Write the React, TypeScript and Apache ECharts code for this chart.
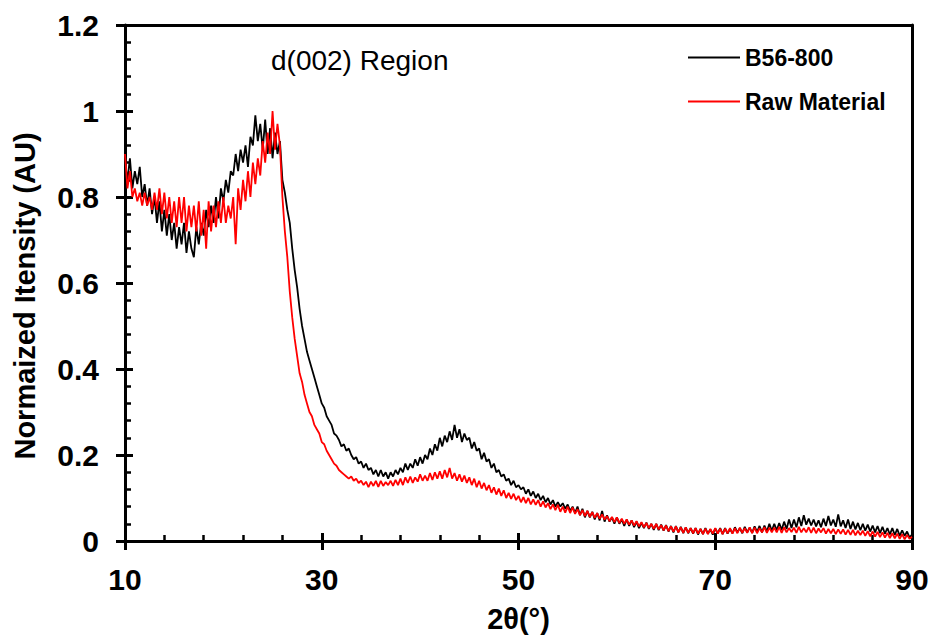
import React, { useEffect, useRef } from "react";
import * as echarts from "echarts";

const X_START = 10;
const X_STEP = 0.25;

const seriesNames = ["B56-800", "Raw Material"];
const titleText = "d(002) Region";
const xName = "2θ(°)";
const yName = "Normaized Itensity (AU)";

const b56 = [
  0.88, 0.84, 0.89, 0.82,
  0.86, 0.83, 0.87, 0.8,
  0.83, 0.78, 0.82, 0.76,
  0.8, 0.74, 0.79, 0.72,
  0.77, 0.71, 0.76, 0.7,
  0.74, 0.68, 0.73, 0.69,
  0.74, 0.67, 0.72, 0.68,
  0.66, 0.73, 0.69, 0.74,
  0.71, 0.77, 0.73, 0.78,
  0.74, 0.8, 0.75, 0.82,
  0.79, 0.84, 0.81, 0.86,
  0.85, 0.9, 0.86, 0.91,
  0.88, 0.92, 0.87, 0.94,
  0.92, 0.99, 0.93, 0.97,
  0.91, 0.98, 0.9, 0.96,
  0.89, 0.95, 0.9, 0.93,
  0.84, 0.81, 0.77, 0.74,
  0.68, 0.63, 0.59, 0.54,
  0.5, 0.47, 0.44, 0.42,
  0.4, 0.38, 0.36, 0.34,
  0.32, 0.31, 0.29, 0.28,
  0.27, 0.25, 0.245, 0.235,
  0.22, 0.225, 0.21, 0.215,
  0.2, 0.19, 0.195, 0.18,
  0.185, 0.17, 0.18, 0.165,
  0.17, 0.155, 0.165, 0.15,
  0.165, 0.15, 0.16, 0.145,
  0.16, 0.15, 0.165, 0.155,
  0.17, 0.16, 0.18, 0.165,
  0.18, 0.17, 0.19, 0.175,
  0.195, 0.18, 0.2, 0.19,
  0.215, 0.2, 0.225, 0.21,
  0.24, 0.22, 0.245, 0.23,
  0.255, 0.235, 0.27, 0.24,
  0.26, 0.23, 0.25, 0.235,
  0.24, 0.215, 0.23, 0.21,
  0.215, 0.19, 0.205, 0.185,
  0.19, 0.17, 0.18, 0.16,
  0.165, 0.15, 0.155, 0.14,
  0.145, 0.13, 0.14, 0.125,
  0.13, 0.12, 0.125, 0.11,
  0.12, 0.105, 0.115, 0.1,
  0.11, 0.095, 0.105, 0.09,
  0.1, 0.085, 0.095, 0.08,
  0.09, 0.08, 0.088, 0.075,
  0.085, 0.07, 0.08, 0.065,
  0.08, 0.06, 0.075, 0.055,
  0.07, 0.055, 0.068, 0.05,
  0.065, 0.048, 0.07, 0.045,
  0.06, 0.045, 0.055, 0.04,
  0.055, 0.04, 0.05, 0.035,
  0.05, 0.035, 0.048, 0.032,
  0.045, 0.03, 0.042, 0.03,
  0.043, 0.028, 0.04, 0.026,
  0.04, 0.025, 0.038, 0.024,
  0.037, 0.022, 0.035, 0.02,
  0.035, 0.02, 0.033, 0.018,
  0.032, 0.018, 0.03, 0.017,
  0.03, 0.015, 0.028, 0.016,
  0.03, 0.017, 0.027, 0.015,
  0.029, 0.018, 0.03, 0.016,
  0.03, 0.017, 0.028, 0.018,
  0.032, 0.02, 0.03, 0.018,
  0.033, 0.02, 0.031, 0.019,
  0.034, 0.021, 0.035, 0.02,
  0.036, 0.022, 0.04, 0.024,
  0.04, 0.025, 0.042, 0.026,
  0.045, 0.028, 0.05, 0.03,
  0.05, 0.032, 0.055, 0.035,
  0.06, 0.038, 0.052, 0.036,
  0.05, 0.034, 0.048, 0.032,
  0.052, 0.035, 0.058, 0.036,
  0.05, 0.033, 0.062, 0.034,
  0.048, 0.03, 0.05, 0.028,
  0.045, 0.027, 0.042, 0.025,
  0.04, 0.024, 0.038, 0.022,
  0.036, 0.02, 0.035, 0.018,
  0.033, 0.017, 0.03, 0.015,
  0.03, 0.014, 0.028, 0.012,
  0.025, 0.012, 0.022, 0.008,
  0.015,
];

const raw = [
  0.9, 0.82, 0.86, 0.8,
  0.82, 0.79, 0.81, 0.78,
  0.81, 0.78, 0.8, 0.77,
  0.81, 0.77, 0.82, 0.76,
  0.81, 0.75, 0.8, 0.74,
  0.79, 0.73, 0.8, 0.74,
  0.8, 0.72, 0.78, 0.73,
  0.78, 0.72, 0.79, 0.71,
  0.77, 0.68, 0.79, 0.72,
  0.78, 0.73, 0.79, 0.74,
  0.8, 0.74, 0.78, 0.75,
  0.8, 0.69, 0.82, 0.77,
  0.84, 0.79, 0.86, 0.8,
  0.88, 0.83, 0.89, 0.85,
  0.93, 0.88, 0.95, 0.9,
  1.0, 0.91, 0.97, 0.92,
  0.8, 0.72, 0.66, 0.58,
  0.52, 0.47, 0.43, 0.39,
  0.37, 0.34, 0.32, 0.3,
  0.29, 0.27, 0.26, 0.25,
  0.23, 0.225, 0.21, 0.2,
  0.19, 0.18, 0.175, 0.165,
  0.16, 0.155, 0.15, 0.145,
  0.15, 0.14, 0.145, 0.135,
  0.14, 0.13, 0.138, 0.125,
  0.138, 0.128, 0.14, 0.126,
  0.14, 0.128, 0.137, 0.13,
  0.14, 0.128, 0.142, 0.13,
  0.145, 0.13, 0.148, 0.135,
  0.15, 0.135, 0.148, 0.138,
  0.155, 0.14, 0.152, 0.14,
  0.158, 0.142, 0.16, 0.145,
  0.162, 0.145, 0.165, 0.148,
  0.17, 0.145, 0.158, 0.14,
  0.155, 0.138, 0.152, 0.135,
  0.148, 0.13, 0.145, 0.125,
  0.14, 0.122, 0.135, 0.118,
  0.13, 0.112, 0.125, 0.108,
  0.122, 0.105, 0.118, 0.1,
  0.112, 0.098, 0.11, 0.095,
  0.105, 0.09, 0.102, 0.088,
  0.1, 0.085, 0.097, 0.084,
  0.095, 0.08, 0.092, 0.078,
  0.088, 0.074, 0.085, 0.072,
  0.084, 0.068, 0.08, 0.066,
  0.08, 0.065, 0.078, 0.063,
  0.074, 0.06, 0.072, 0.058,
  0.07, 0.056, 0.067, 0.054,
  0.065, 0.052, 0.062, 0.05,
  0.058, 0.046, 0.056, 0.044,
  0.055, 0.042, 0.052, 0.04,
  0.05, 0.038, 0.048, 0.036,
  0.046, 0.034, 0.044, 0.032,
  0.042, 0.03, 0.04, 0.028,
  0.04, 0.027, 0.037, 0.025,
  0.036, 0.023, 0.034, 0.022,
  0.034, 0.02, 0.032, 0.019,
  0.032, 0.019, 0.03, 0.018,
  0.03, 0.017, 0.028, 0.016,
  0.029, 0.016, 0.028, 0.017,
  0.03, 0.017, 0.029, 0.016,
  0.029, 0.018, 0.03, 0.017,
  0.03, 0.018, 0.031, 0.019,
  0.03, 0.019, 0.032, 0.018,
  0.031, 0.018, 0.03, 0.02,
  0.032, 0.019, 0.031, 0.02,
  0.031, 0.02, 0.033, 0.019,
  0.032, 0.02, 0.03, 0.021,
  0.031, 0.019, 0.033, 0.02,
  0.03, 0.02, 0.032, 0.019,
  0.031, 0.018, 0.029, 0.02,
  0.03, 0.017, 0.028, 0.018,
  0.028, 0.016, 0.027, 0.017,
  0.027, 0.015, 0.026, 0.014,
  0.026, 0.013, 0.024, 0.014,
  0.024, 0.012, 0.023, 0.011,
  0.022, 0.01, 0.021, 0.009,
  0.02, 0.008, 0.019, 0.007,
  0.018, 0.006, 0.017, 0.005,
  0.016, 0.004, 0.014, 0.005,
  0.01,
];

const FONT = "'Liberation Sans', Arial, sans-serif";

const toPoints = (arr: number[]) => arr.map((v, i) => [X_START + i * X_STEP, v]);

export default function App() {
  const ref = useRef<HTMLDivElement>(null);

  useEffect(() => {
    document.body.style.margin = "0";
    if (!ref.current) return;
    const chart = echarts.init(ref.current, null, { renderer: "svg" });

    const labelStyle = { fontFamily: FONT, fontWeight: "bold" as const, fontSize: 30, color: "#000" };
    const nameStyle = { fontFamily: FONT, fontWeight: "bold" as const, fontSize: 29, color: "#000" };
    const frameAxis = {
      show: true,
      axisLine: { show: true, onZero: false, lineStyle: { color: "#000", width: 3 } },
      axisTick: { show: false },
      axisLabel: { show: false },
      splitLine: { show: false },
    };

    chart.setOption({
      animation: false,
      backgroundColor: "#fff",
      grid: { left: 125, right: 23, top: 25, bottom: 100 },
      title: {
        text: titleText,
        left: 266,
        top: 41,
        textStyle: { fontFamily: FONT, fontWeight: "normal", fontSize: 28, color: "#000" },
      },
      legend: {
        data: seriesNames,
        orient: "vertical",
        left: 683,
        top: 41,
        icon: "rect",
        itemWidth: 52,
        itemHeight: 2,
        itemGap: 21,
        textStyle: { fontFamily: FONT, fontWeight: "bold", fontSize: 23, color: "#000" },
      },
      xAxis: [
        {
          type: "value",
          min: 10,
          max: 90,
          interval: 20,
          name: xName,
          nameLocation: "middle",
          nameGap: 63,
          nameTextStyle: nameStyle,
          axisLine: { show: true, onZero: false, lineStyle: { color: "#000", width: 3 } },
          axisTick: { show: true, inside: true, length: 8, lineStyle: { color: "#000", width: 3 } },
          minorTick: { show: true, splitNumber: 5, length: 6, lineStyle: { color: "#000", width: 2.5 } },
          axisLabel: { ...labelStyle, margin: 23 },
          splitLine: { show: false },
          minorSplitLine: { show: false },
        },
        {
          type: "value",
          min: 10,
          max: 90,
          interval: 20,
          position: "bottom",
          axisLine: { show: false, onZero: false },
          axisTick: { show: true, inside: false, length: 9, lineStyle: { color: "#000", width: 3 } },
          axisLabel: { show: false },
          splitLine: { show: false },
        },
        { ...frameAxis, type: "value", min: 10, max: 90, position: "top" },
      ],
      yAxis: [
        {
          type: "value",
          min: 0,
          max: 1.2,
          interval: 0.2,
          name: yName,
          nameLocation: "middle",
          nameGap: 86,
          nameTextStyle: { ...nameStyle, padding: [0, 26, 0, 0] },
          axisLine: { show: true, onZero: false, lineStyle: { color: "#000", width: 3 } },
          axisTick: { show: true, inside: true, length: 8, lineStyle: { color: "#000", width: 3 } },
          minorTick: { show: true, splitNumber: 5, length: 6, lineStyle: { color: "#000", width: 2.5 } },
          axisLabel: { ...labelStyle, margin: 26 },
          splitLine: { show: false },
          minorSplitLine: { show: false },
        },
        {
          type: "value",
          min: 0,
          max: 1.2,
          interval: 0.2,
          position: "left",
          axisLine: { show: false, onZero: false },
          axisTick: { show: true, inside: false, length: 9, lineStyle: { color: "#000", width: 3 } },
          axisLabel: { show: false },
          splitLine: { show: false },
        },
        { ...frameAxis, type: "value", min: 0, max: 1.2, position: "right" },
      ],
      series: [
        {
          name: seriesNames[0],
          type: "line",
          xAxisIndex: 0,
          yAxisIndex: 0,
          data: toPoints(b56),
          symbol: "none",
          lineStyle: { color: "#000", width: 1.8 },
          itemStyle: { color: "#000" },
        },
        {
          name: seriesNames[1],
          type: "line",
          xAxisIndex: 0,
          yAxisIndex: 0,
          data: toPoints(raw),
          symbol: "none",
          lineStyle: { color: "#ff0000", width: 1.8 },
          itemStyle: { color: "#ff0000" },
        },
      ],
    });

    return () => chart.dispose();
  }, []);

  return (
    <div
      ref={ref}
      style={{ position: "fixed", left: 0, top: 0, width: 935, height: 641 }}
    />
  );
}
